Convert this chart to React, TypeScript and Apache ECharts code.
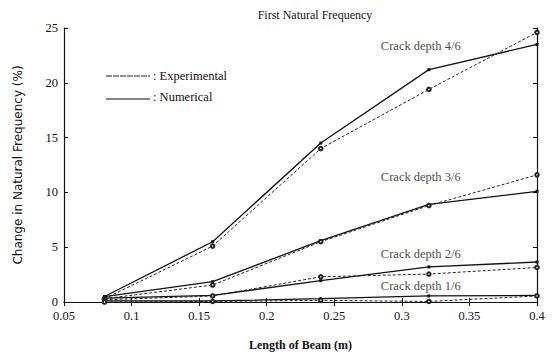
import React, { useEffect, useRef } from "react";
import * as echarts from "echarts";

const lengths = [0.08, 0.16, 0.24, 0.32, 0.4];
const num46 = [0.5, 5.5, 14.5, 21.2, 23.5];
const exp46 = [0.3, 5.1, 14.0, 19.4, 24.6];
const num36 = [0.5, 1.85, 5.6, 8.9, 10.1];
const exp36 = [0.3, 1.55, 5.5, 8.8, 11.6];
const num26 = [0.35, 0.6, 1.95, 3.2, 3.65];
const exp26 = [0.2, 0.55, 2.3, 2.55, 3.15];
const num16 = [0.1, 0.1, 0.3, 0.55, 0.6];
const exp16 = [0.0, 0.05, 0.15, 0.05, 0.55];
const crackLabels = ["Crack depth 4/6", "Crack depth 3/6", "Crack depth 2/6", "Crack depth 1/6"];
const crackLabelPos: [number, number][] = [[0.314, 23.4], [0.314, 11.4], [0.314, 4.4], [0.314, 1.45]];

const serif = "Liberation Serif";

export default function App() {
  const ref = useRef<HTMLDivElement>(null);
  useEffect(() => {
    if (!ref.current) return;
    const chart = echarts.init(ref.current, null, { renderer: "svg" });
    const mk = (d: number[]) => d.map((v, i) => [lengths[i], v]);
    const solid = (name: string, d: number[]) => ({
      type: "line", name, data: mk(d), symbol: "rect", symbolSize: 3,
      lineStyle: { color: "#111", width: 1.3, type: "solid" },
      itemStyle: { color: "#111" },
    });
    const dashed = (name: string, d: number[]) => ({
      type: "line", name, data: mk(d), symbol: "emptyCircle", symbolSize: 3.5,
      lineStyle: { color: "#222", width: 1, type: [3, 2] },
      itemStyle: { color: "#222", borderColor: "#222" },
    });
    const labelSeries = {
      type: "scatter", data: crackLabelPos.map((p, i) => ({ value: p, name: crackLabels[i] })),
      symbolSize: 0, silent: true, itemStyle: { color: "#111" },
      label: { show: true, position: "inside", formatter: (p: any) => p.name, color: "#111", fontFamily: serif, fontSize: 12.5, textBorderWidth: 0 },
    };
    chart.setOption({
      animation: false,
      backgroundColor: "#fff",
      title: {
        text: "First Natural Frequency", left: 310, top: 4, textAlign: "center",
        textStyle: { fontFamily: serif, fontSize: 12, fontWeight: "normal", color: "#111" },
      },
      grid: { left: 64, right: 20, top: 28, bottom: 53 },
      xAxis: [
        {
          type: "value", min: 0.05, max: 0.4, interval: 0.05,
          name: "Length of Beam (m)", nameLocation: "middle", nameGap: 37,
          nameTextStyle: { fontFamily: serif, fontSize: 12, fontWeight: "bold", color: "#111" },
          axisLine: { show: true, lineStyle: { color: "#111", width: 1.2 } },
          axisTick: { show: true, inside: true, length: 4, lineStyle: { color: "#111" } },
          axisLabel: { fontFamily: serif, fontSize: 12.5, color: "#111", margin: 7, formatter: (v: number) => String(+v.toFixed(2)) },
          splitLine: { show: false },
        },
        {
          type: "value", position: "top", min: 0.05, max: 0.4, interval: 0.05,
          axisLine: { show: true, lineStyle: { color: "#111", width: 1.2 } },
          axisTick: { show: true, inside: true, length: 4, lineStyle: { color: "#111" } },
          axisLabel: { show: false }, splitLine: { show: false },
        },
      ],
      yAxis: [
        {
          type: "value", min: 0, max: 25, interval: 5,
          name: "Change in Natural Frequency (%)", nameLocation: "middle", nameGap: 40,
          nameTextStyle: { fontFamily: "DejaVu Sans", fontSize: 12, color: "#111" },
          axisLine: { show: true, lineStyle: { color: "#111", width: 1.2 } },
          axisTick: { show: true, inside: true, length: 4, lineStyle: { color: "#111" } },
          axisLabel: { fontFamily: serif, fontSize: 12.5, color: "#111", margin: 6 },
          splitLine: { show: false },
        },
        {
          type: "value", position: "right", min: 0, max: 25, interval: 5,
          axisLine: { show: true, lineStyle: { color: "#111", width: 1.2 } },
          axisTick: { show: true, inside: true, length: 4, lineStyle: { color: "#111" } },
          axisLabel: { show: false }, splitLine: { show: false },
        },
      ],
      series: [
        solid("Numerical 4/6", num46), dashed("Experimental 4/6", exp46),
        solid("Numerical 3/6", num36), dashed("Experimental 3/6", exp36),
        solid("Numerical 2/6", num26), dashed("Experimental 2/6", exp26),
        solid("Numerical 1/6", num16), dashed("Experimental 1/6", exp16),
        labelSeries,
      ],
      graphic: [
        { type: "line", shape: { x1: 106, y1: 76, x2: 150, y2: 76 }, style: { stroke: "#222", lineWidth: 1, lineDash: [6, 1] } },
        { type: "text", x: 153, y: 76, style: { text: ": Experimental", fontFamily: serif, fontSize: 12.5, fill: "#111", textVerticalAlign: "middle" } },
        { type: "line", shape: { x1: 106, y1: 99, x2: 150, y2: 99 }, style: { stroke: "#111", lineWidth: 1.2 } },
        { type: "text", x: 153, y: 97, style: { text: ": Numerical", fontFamily: serif, fontSize: 12.5, fill: "#111", textVerticalAlign: "middle" } },
      ],
    });
    return () => chart.dispose();
  }, []);
  return <div ref={ref} style={{ width: 557, height: 356, position: "absolute", left: 0, top: 0 }} />;
}
